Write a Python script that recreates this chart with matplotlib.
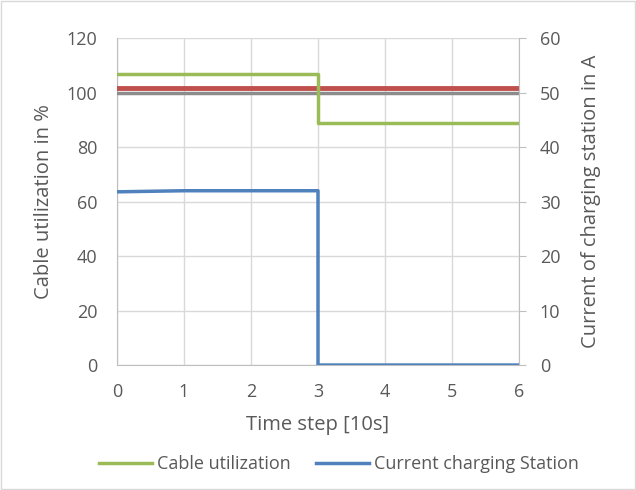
import matplotlib
matplotlib.use("Agg")
import matplotlib.pyplot as plt

time_steps = [0, 1, 2, 3, 3, 4, 5, 6]
cable_util = [106.7, 106.7, 106.7, 106.7, 88.9, 88.9, 88.9, 88.9]
current_cs = [31.8, 32.0, 32.0, 32.0, 0.0, 0.0, 0.0, 0.0]
limit_x = [0, 6]
limit_100 = [100, 100]
limit_red = [101.9, 101.9]

plt.rcParams['font.family'] = ['Open Sans', 'DejaVu Sans']
txt = '#595959'
grid_c = '#d9d9d9'

fig = plt.figure(figsize=(6.36, 4.90), dpi=100)
ax = fig.add_axes([0.184, 0.255, 0.632, 0.667])
ax2 = ax.twinx()

ax.plot(limit_x, limit_100, color='#8c8c8c', lw=2.5, zorder=3)
ax.plot(limit_x, limit_red, color='#c0504d', lw=3.5, zorder=4)
l1, = ax.plot(time_steps, cable_util, color='#9bbb59', lw=2.5, zorder=5, label='Cable utilization')
l2, = ax2.plot(time_steps, current_cs, color='#4f81bd', lw=2.5, zorder=5, label='Current charging Station')

ax.set_xlim(0, 6)
ax.set_ylim(0, 120)
ax2.set_ylim(0, 60)
ax.set_xticks(range(0, 7))
ax.set_yticks(range(0, 121, 20))
ax2.set_yticks(range(0, 61, 10))
ax.grid(True, color=grid_c, lw=1)
ax.set_axisbelow(True)

for a in (ax, ax2):
    for s in a.spines.values():
        s.set_visible(False)
    a.tick_params(colors=txt, labelsize=13, length=0)
ax.spines['left'].set_visible(True)
ax.spines['left'].set_color('#bfbfbf')
ax.spines['bottom'].set_visible(True)
ax.spines['bottom'].set_color('#bfbfbf')
ax2.spines['right'].set_visible(True)
ax2.spines['right'].set_color('#bfbfbf')
ax2.tick_params(axis='y', length=5, color='#bfbfbf', direction='out', pad=10)
ax.tick_params(axis='x', pad=13)
ax.tick_params(axis='y', pad=14)

ax.set_xlabel('Time step [10s]', color=txt, fontsize=14.5, labelpad=10)
ax.set_ylabel('Cable utilization in %', color=txt, fontsize=14.5, labelpad=9)
ax2.set_ylabel('Current of charging station in A', color=txt, fontsize=14.5, labelpad=15)

fig.legend(handles=[l1, l2], loc='center', bbox_to_anchor=(0.533, 0.053), ncol=2,
           frameon=False, fontsize=13, labelcolor=txt, handlelength=2.95,
           handletextpad=0.28, columnspacing=1.4)

fig.patches.append(plt.Rectangle((0.002, 0.002), 0.996, 0.996, transform=fig.transFigure,
                                 fill=False, edgecolor='#d9d9d9', lw=1))
fig.savefig('out.png', dpi=100)
